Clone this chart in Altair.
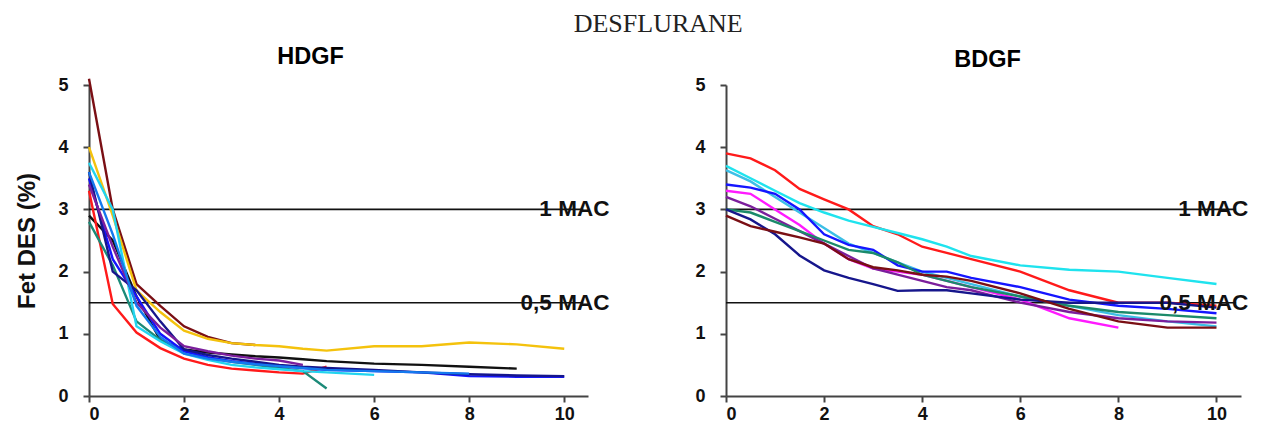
import altair as alt
import pandas as pd

# ---- time points (minutes) ----
T = [0, 0.5, 1, 1.5, 2, 2.5, 3, 3.5, 4, 4.5, 5, 6, 7, 8, 9, 10]

# ---- HDGF series (Fet DES %) ----
h_maroon = [5.1, 3.0, 1.8, 1.45, 1.12, 0.95, 0.85, 0.82]
h_yellow = [4.0, 2.9, 1.7, 1.35, 1.05, 0.92, 0.85, 0.82, 0.8, 0.76, 0.73, 0.8, 0.8, 0.86, 0.83, 0.76]
h_black = [2.9, 2.5, 1.6, 0.9, 0.75, 0.7, 0.67, 0.64, 0.62, 0.59, 0.56, 0.52, 0.5, 0.47, 0.44]
h_red = [3.3, 1.48, 1.02, 0.77, 0.6, 0.5, 0.44, 0.41, 0.38, 0.36, 0.47]
h_teal = [2.8, 2.1, 1.2, 0.9, 0.72, 0.62, 0.55, 0.5, 0.45, 0.4, 0.12]
h_cyan = [3.75, 3.0, 1.12, 0.88, 0.68, 0.58, 0.5, 0.46, 0.43, 0.4, 0.38, 0.34]
h_blue = [3.5, 2.2, 1.6, 1.0, 0.72, 0.62, 0.56, 0.52, 0.48, 0.45, 0.42, 0.4, 0.38, 0.32, 0.31, 0.31]
h_navy = [3.6, 2.0, 1.7, 1.2, 0.75, 0.66, 0.6, 0.55, 0.5, 0.47, 0.45, 0.42, 0.38, 0.35, 0.33, 0.32]
h_purple = [3.4, 2.4, 1.5, 1.1, 0.8, 0.72, 0.65, 0.6, 0.57, 0.5]
h_dodger = [3.6, 2.6, 1.45, 0.95, 0.68, 0.6, 0.55, 0.51, 0.48, 0.45, 0.42, 0.4, 0.38, 0.36]

# ---- BDGF series (Fet DES %) ----
b_red = [3.9, 3.82, 3.63, 3.33, 3.16, 3.0, 2.73, 2.6, 2.4, 2.3, 2.2, 2.0, 1.7, 1.5, 1.5, 1.45]
b_cyan = [3.7, 3.5, 3.3, 3.1, 2.95, 2.82, 2.72, 2.62, 2.52, 2.4, 2.25, 2.1, 2.03, 2.0, 1.9, 1.8]
b_skyblue = [3.63, 3.45, 3.2, 2.95, 2.7, 2.45, 2.3, 2.15, 2.0, 1.9, 1.8, 1.6, 1.45, 1.3, 1.2, 1.12]
b_blue = [3.4, 3.35, 3.25, 3.0, 2.6, 2.43, 2.35, 2.1, 2.0, 2.0, 1.9, 1.75, 1.55, 1.45, 1.4, 1.33]
b_magenta = [3.3, 3.25, 3.0, 2.75, 2.45, 2.2, 2.05, 2.0, 1.95, 1.85, 1.75, 1.55, 1.25, 1.1]
b_purple = [3.2, 3.05, 2.85, 2.65, 2.45, 2.25, 2.05, 1.95, 1.85, 1.75, 1.7, 1.5, 1.35, 1.25, 1.2, 1.18]
b_teal = [3.0, 2.95, 2.8, 2.65, 2.5, 2.35, 2.3, 2.15, 1.95, 1.85, 1.75, 1.6, 1.45, 1.35, 1.3, 1.25]
b_navy = [3.0, 2.84, 2.6, 2.26, 2.02, 1.9, 1.8, 1.69, 1.7, 1.7, 1.65, 1.55, 1.5, 1.5, 1.5, 1.42]
b_maroon = [2.9, 2.73, 2.64, 2.55, 2.45, 2.2, 2.07, 2.02, 1.95, 1.92, 1.85, 1.65, 1.4, 1.2, 1.1, 1.1]

# ---- colours ----
hdgf_series = {
    "h_maroon": (h_maroon, "#7a0f14"), "h_yellow": (h_yellow, "#f4c20d"),
    "h_black": (h_black, "#111111"), "h_red": (h_red, "#ff1a1a"),
    "h_teal": (h_teal, "#1b8a78"), "h_cyan": (h_cyan, "#22d4ef"),
    "h_blue": (h_blue, "#1515ff"), "h_navy": (h_navy, "#16168c"),
    "h_purple": (h_purple, "#7b1e9c"), "h_dodger": (h_dodger, "#1479ee"),
}
bdgf_series = {
    "b_red": (b_red, "#ff1a1a"), "b_cyan": (b_cyan, "#1fe3ee"),
    "b_skyblue": (b_skyblue, "#3cbfe6"), "b_blue": (b_blue, "#1515ff"),
    "b_magenta": (b_magenta, "#ff1aff"), "b_purple": (b_purple, "#7b1e9c"),
    "b_teal": (b_teal, "#1b8a6a"), "b_navy": (b_navy, "#16168c"),
    "b_maroon": (b_maroon, "#7a0f14"),
}

MAC_Y = [3.0, 1.5]
MAC_TXT = ["1 MAC", "0,5 MAC"]
X_TICKS = [0, 2, 4, 6, 8, 10]
Y_TICKS = [0, 1, 2, 3, 4, 5]

FONT = "Liberation Sans"


def long_df(series):
    rows = []
    for name, (vals, _c) in series.items():
        for t, v in zip(T, vals):
            rows.append({"s": name, "t": t, "v": v})
    return pd.DataFrame(rows)


def panel(series, title, width, show_ytitle, text_x, title_dx):
    df = long_df(series)
    names = list(series.keys())
    cols = [c for _v, c in series.values()]
    x = alt.X("t:Q", scale=alt.Scale(domain=[0, 10.5], nice=False),
              axis=alt.Axis(values=X_TICKS, title=None, grid=False, format="d",
                            labelPadding=3))
    y = alt.Y("v:Q", scale=alt.Scale(domain=[0, 5], nice=False),
              axis=alt.Axis(values=Y_TICKS, grid=False, format="d", labelPadding=15,
                            title="Fet DES (%)" if show_ytitle else None))
    lines = alt.Chart(df).mark_line(strokeWidth=2.4, clip=False).encode(
        x=x, y=y,
        color=alt.Color("s:N", scale=alt.Scale(domain=names, range=cols), legend=None),
        order=alt.Order("t:Q"),
    )
    mac = pd.DataFrame({"y": MAC_Y, "lab": MAC_TXT})
    rules = alt.Chart(mac).mark_rule(color="#111111", strokeWidth=1.6).encode(
        y="y:Q", x=alt.datum(0), x2=alt.datum(10.4)
    )
    texts = alt.Chart(mac).mark_text(
        align="right", baseline="middle", font=FONT, fontWeight="bold",
        fontSize=22.5, color="#111111"
    ).encode(y="y:Q", x=alt.datum(text_x), text="lab:N")
    return alt.layer(rules, lines, texts).properties(
        width=width, height=311,
        title=alt.TitleParams(title, font=FONT, fontWeight="bold", fontSize=23.5,
                              dx=title_dx, offset=5),
    ).resolve_scale(color="independent")


left = panel(hdgf_series, "HDGF", 499, True, 10.95, -28)
right = panel(bdgf_series, "BDGF", 515, False, 10.65, 4)

chart = alt.hconcat(left, right, spacing=84).resolve_scale(
    color="independent"
).properties(
    background="white",
    padding={"left": 7, "top": 3, "right": 5, "bottom": 5},
    title=alt.TitleParams("DESFLURANE", font="Liberation Serif", fontSize=26,
                          fontWeight="normal", anchor="middle", offset=8,
                          dx=26, color="#222222"),
).configure_view(stroke=None).configure_axis(
    domainColor="#444444", domainWidth=2, tickColor="#444444", tickWidth=2,
    tickSize=6, labelFont=FONT, labelFontSize=18, labelFontWeight="bold",
    labelColor="#111111", titleFont=FONT, titleFontSize=24,
    titleFontWeight="bold", titleColor="#111111", titlePadding=18,
)

chart.save("out.html", embed_options={"renderer": "svg", "actions": False})
